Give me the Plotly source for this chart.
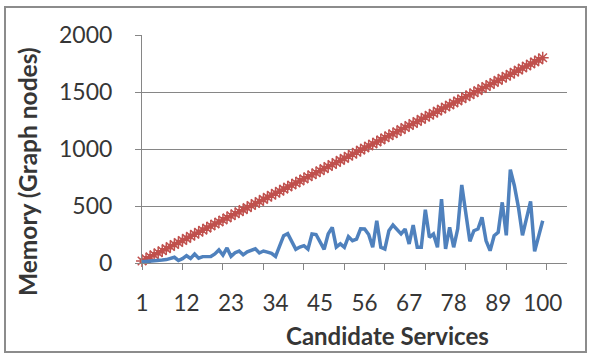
import plotly.graph_objects as go

# Candidate service counts on the category axis
candidates = list(range(1, 101))

# Memory use of the full graph (red) and the pruned graph (blue)
full_graph_nodes = [
    18, 36, 54, 72, 90, 108, 126, 144, 162, 180,
    198, 216, 234, 252, 270, 288, 306, 324, 342, 360,
    378, 396, 414, 432, 450, 468, 486, 504, 522, 540,
    558, 576, 594, 612, 630, 648, 666, 684, 702, 720,
    738, 756, 774, 792, 810, 828, 846, 864, 882, 900,
    918, 936, 954, 972, 990, 1008, 1026, 1044, 1062, 1080,
    1098, 1116, 1134, 1152, 1170, 1188, 1206, 1224, 1242, 1260,
    1278, 1296, 1314, 1332, 1350, 1368, 1386, 1404, 1422, 1440,
    1458, 1476, 1494, 1512, 1530, 1548, 1566, 1584, 1602, 1620,
    1638, 1656, 1674, 1692, 1710, 1728, 1746, 1764, 1782, 1800,
]
pruned_graph_nodes = [
    10, 12, 14, 17, 20, 26, 30, 42, 50, 22,
    38, 64, 40, 78, 42, 56, 60, 58, 80, 115,
    70, 132, 58, 90, 105, 72, 98, 108, 125, 88,
    105, 96, 85, 58, 160, 240, 258, 180, 120, 140,
    152, 122, 255, 250, 185, 120, 255, 312, 140, 168,
    138, 232, 196, 210, 300, 298, 250, 138, 371, 138,
    123, 284, 333, 290, 255, 298, 167, 333, 138, 138,
    468, 225, 255, 138, 561, 123, 313, 138, 300, 684,
    430, 190, 283, 298, 400, 196, 108, 239, 269, 532,
    243, 819, 678, 488, 243, 390, 541, 102, 240, 371,
]

x_tick_vals = [1, 12, 23, 34, 45, 56, 67, 78, 89, 100]
x_tick_text = ["1", "12", "23", "34", "45", "56", "67", "78", "89", "100"]
x_tick_marks = [1, 11, 21, 31, 41, 51, 61, 71, 81, 91, 101]
y_tick_vals = [0, 500, 1000, 1500, 2000]

W, H = 590, 358
ML, MR, MT, MB = 142, 23, 35, 95
PW, PH = W - ML - MR, H - MT - MB


def px_x(px):
    return (px - ML) / PW


def px_y(py):
    return (H - MB - py) / PH


TEXT = "#363636"
AXIS = "#868686"
FONT = "Lato"

fig = go.Figure()
fig.add_trace(go.Scatter(
    x=candidates, y=full_graph_nodes, mode="lines+markers",
    line=dict(color="#C0504D", width=2),
    marker=dict(symbol="asterisk-open", size=10, color="#C0504D",
                line=dict(color="#C0504D", width=1.5)),
    cliponaxis=False, showlegend=False,
))
fig.add_trace(go.Scatter(
    x=candidates, y=pruned_graph_nodes, mode="lines",
    line=dict(color="#4F81BD", width=3.5),
    cliponaxis=False, showlegend=False,
))

fig.update_layout(
    width=W, height=H,
    margin=dict(l=ML, r=MR, t=MT, b=MB, pad=0),
    paper_bgcolor="white", plot_bgcolor="white",
    font=dict(family=FONT, size=23, color=TEXT),
    xaxis=dict(
        range=[1, 106], showgrid=False, zeroline=False,
        showline=True, linecolor=AXIS, linewidth=1,
        tickmode="array", tickvals=x_tick_vals, ticktext=x_tick_text,
        ticks="", ticklabelstandoff=20, tickfont=dict(size=22.5),
        minor=dict(tickmode="array", tickvals=x_tick_marks, ticks="outside",
                   ticklen=6, tickcolor=AXIS, tickwidth=1, showgrid=False),
    ),
    yaxis=dict(
        range=[0, 2000], showgrid=True, gridcolor=AXIS, gridwidth=1,
        zeroline=False, showline=True, linecolor=AXIS, linewidth=1,
        tickmode="array", tickvals=y_tick_vals,
        ticks="outside", ticklen=6, tickcolor=AXIS,
        ticklabelstandoff=18,
    ),
    annotations=[
        dict(text="<b>Candidate Services</b>", xref="paper", yref="paper",
             x=px_x(387), y=px_y(335), xanchor="center", yanchor="middle",
             showarrow=False, font=dict(family=FONT, size=24, color=TEXT)),
        dict(text="<b>Memory (Graph nodes)</b>", xref="paper", yref="paper",
             x=px_x(27), y=px_y(172), xanchor="center", yanchor="middle",
             textangle=-90, showarrow=False,
             font=dict(family=FONT, size=24.5, color=TEXT)),
    ],
    shapes=[
        dict(type="rect", xref="paper", yref="paper",
             x0=px_x(5), x1=px_x(586), y0=px_y(352), y1=px_y(7),
             line=dict(color="#8c8c8c", width=2), layer="below"),
    ],
)

fig.write_html("out.html")
